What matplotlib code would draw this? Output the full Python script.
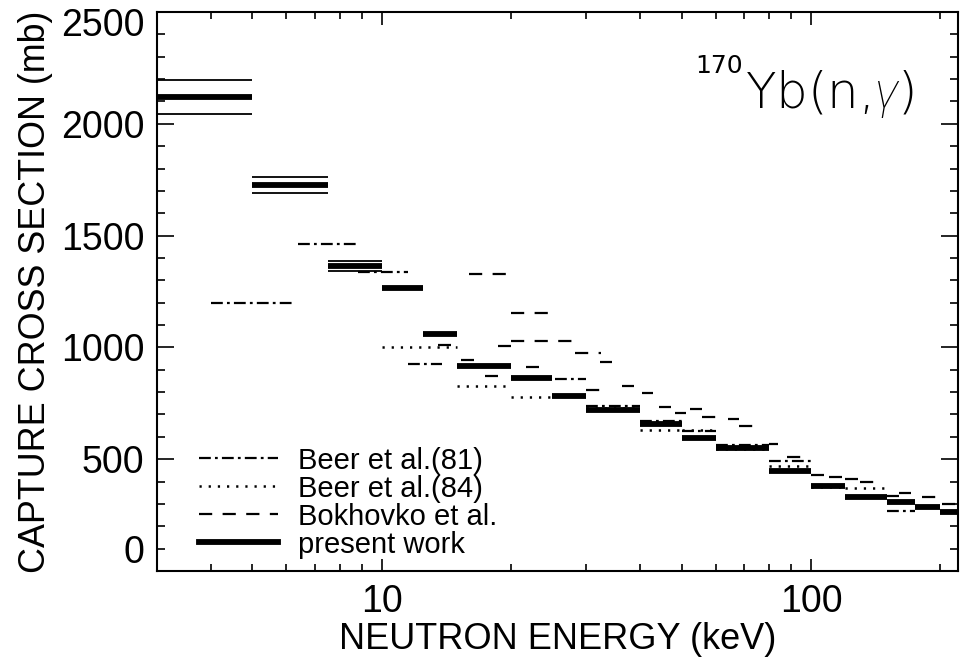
import matplotlib
matplotlib.use("Agg")
import matplotlib.pyplot as plt
from matplotlib.lines import Line2D
from matplotlib import transforms
from matplotlib.ticker import FixedLocator, NullFormatter, FixedFormatter, MultipleLocator

plt.rcParams['font.family'] = ['Liberation Sans', 'DejaVu Sans']
plt.rcParams['lines.scale_dashes'] = False
plt.rcParams['mathtext.fontset'] = 'custom'
plt.rcParams['mathtext.it'] = 'Roboto:italic:light'
plt.rcParams['mathtext.rm'] = 'Roboto:light'

# present work: energy bin edges (keV) and cross sections (mb)
pw_edges = [3, 5, 7.5, 10, 12.5, 15, 20, 25, 30, 40, 50, 60, 80, 100, 120, 150, 175, 200, 225]
pw_sigma = [2120, 1726, 1364, 1265, 1060, 917, 863, 783, 718, 657, 594, 550, 447, 380, 331, 309, 286, 264]
# uncertainties shown for the three lowest bins
pw_err = [78, 36, 22]

# Beer et al. (81): bin low edge, high edge, cross section
beer81_lo = [4.0, 6.4, 8.8, 11.5, 25.4, 30, 40, 50, 60, 80, 100, 150]
beer81_hi = [6.2, 8.8, 11.5, 13.8, 30, 40, 50, 60, 80, 100, 120, 175]
beer81_sig = [1198, 1462, 1337, 926, 858, 740, 672, 625, 565, 490, 385, 268]

# Beer et al. (84)
beer84_lo = [10, 15, 20, 30, 40, 50, 60, 80, 100, 120]
beer84_hi = [15, 20, 25, 40, 50, 60, 80, 100, 120, 150]
beer84_sig = [1002, 827, 778, 730, 631, 630, 545, 470, 376, 371]

# Bokhovko et al.
bok_lo = [16, 20, 20, 13.5, 18.7, 15.3, 17.4, 21.7, 28.2, 32.2, 30, 36.3, 40.4, 44.2, 48.2,
          52.2, 55.9, 64.1, 68, 80, 88, 100, 110, 120, 130, 150, 160, 181, 202]
bok_hi = [20, 25, 28, 14.5, 20, 16.4, 18.7, 23.3, 32.5, 34.5, 32.5, 38.7, 42.8, 47.1, 51.1,
          55.7, 60.1, 68, 76.3, 84, 96, 107, 118, 129, 140, 160, 171, 202, 225]
bok_sig = [1328, 1154, 1030, 1011, 1006, 944, 872, 912, 975, 935, 808, 827, 796, 733, 707,
           724, 689, 680, 650, 568, 510, 429, 420, 411, 398, 335, 349, 331, 300]

# y tick values and their labels
y_ticks = [0, 500, 1000, 1500, 2000, 2500]
y_ticklabels = ['0', '500', '1000', '1500', '2000', '2500']

DASHDOT = (0, (8.5, 3.0, 2.0, 3.0))
DOTTED = (0, (1.6, 5.0))
DASHED = (0, (9.5, 7.5))

fig = plt.figure(figsize=(9.61, 6.63), dpi=100)
ax = fig.add_axes([157 / 961, 1 - 571 / 663, (958 - 157) / 961, (571 - 12) / 663])
ax.set_xscale('log')

ax.hlines(beer81_sig, beer81_lo, beer81_hi, colors='black', linewidth=1.6, linestyles=DASHDOT)
ax.hlines(beer84_sig, beer84_lo, beer84_hi, colors='black', linewidth=1.8, linestyles=DOTTED)
ax.hlines(bok_sig, bok_lo, bok_hi, colors='black', linewidth=1.6, linestyles=DASHED)
ax.hlines(pw_sigma, pw_edges[:-1], pw_edges[1:], colors='black', linewidth=4.2)
for i, e in enumerate(pw_err):
    for s in (pw_sigma[i] - e, pw_sigma[i] + e):
        ax.hlines(s, pw_edges[i], pw_edges[i + 1], colors='black', linewidth=1.3)

ax.set_xlim(3, 220)
ax.set_ylim(0, 2500)

# axes and ticks
for sp in ax.spines.values():
    sp.set_linewidth(1.5)
ax.xaxis.set_major_locator(FixedLocator([10, 100]))
ax.xaxis.set_major_formatter(FixedFormatter(['10', '100']))
minor_x = [3, 4, 5, 6, 7, 8, 9, 20, 30, 40, 50, 60, 70, 80, 90, 200]
ax.xaxis.set_minor_locator(FixedLocator(minor_x))
ax.xaxis.set_minor_formatter(NullFormatter())
ax.yaxis.set_major_locator(FixedLocator(y_ticks))
# the end labels are placed separately so they stay within the frame height
ax.yaxis.set_major_formatter(FixedFormatter([''] + y_ticklabels[1:-1] + ['']))
ax.yaxis.set_minor_locator(MultipleLocator(100))
ax.tick_params(axis='both', which='both', direction='in', top=True, right=True,
               labelsize=27, width=1.2)
ax.tick_params(axis='y', which='major', length=12, pad=9)
ax.tick_params(axis='y', which='minor', length=6)
ax.tick_params(axis='x', which='major', length=9, pad=9)
ax.tick_params(axis='x', which='minor', length=5)

ylab_trans = transforms.blended_transform_factory(ax.transAxes, ax.transData)
ax.text(0, y_ticks[0], y_ticklabels[0], fontsize=27, ha='right', va='bottom',
        transform=ylab_trans + transforms.ScaledTranslation(-9 / 72, 0, fig.dpi_scale_trans))
ax.text(0, y_ticks[-1], y_ticklabels[-1], fontsize=27, ha='right', va='top',
        transform=ylab_trans + transforms.ScaledTranslation(-9 / 72, 3 / 72, fig.dpi_scale_trans))

ax.set_xlabel('NEUTRON ENERGY (keV)', fontsize=26, labelpad=2)
ax.set_ylabel('CAPTURE CROSS SECTION (mb)', fontsize=25.8, labelpad=6)

# reaction label
ax.text(0.7316, 0.891, '170', transform=ax.transAxes, fontsize=18,
        ha='right', va='baseline', family='DejaVu Sans')
ax.text(0.734, 0.828, r'Yb(n,$\gamma$)', transform=ax.transAxes, fontsize=36,
        ha='left', va='baseline', family='DejaVu Sans', fontweight='light')

handles = [
    Line2D([], [], color='black', linewidth=1.6, linestyle=DASHDOT),
    Line2D([], [], color='black', linewidth=1.8, linestyle=DOTTED),
    Line2D([], [], color='black', linewidth=1.6, linestyle=DASHED),
    Line2D([], [], color='black', linewidth=4.2),
]
labels = ['Beer et al.(81)', 'Beer et al.(84)', 'Bokhovko et al.', 'present work']
ax.legend(handles, labels, loc='lower left', bbox_to_anchor=(0.034, -0.004), frameon=False,
          fontsize=21, handlelength=2.7, handletextpad=0.7, labelspacing=0.0,
          borderpad=0.0)

fig.savefig('out.png', dpi=100)
